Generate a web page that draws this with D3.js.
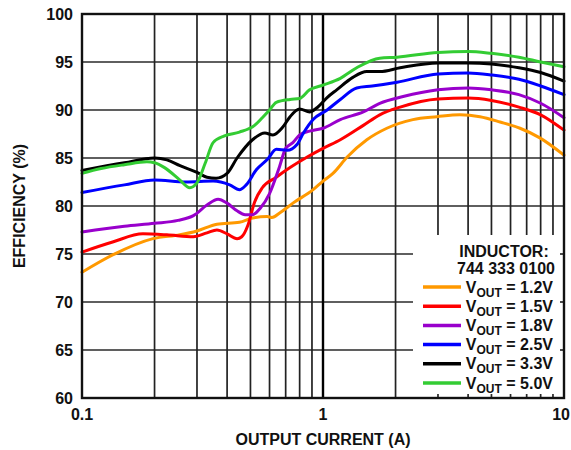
<!DOCTYPE html>
<html>
<head>
<meta charset="utf-8">
<script src="https://cdn.jsdelivr.net/npm/d3@7"></script>
<style>
  html, body { margin: 0; padding: 0; background: #fff; }
  svg { display: block; }
  text { font-family: "Liberation Sans", Arial, Helvetica, sans-serif; font-weight: bold; fill: #111; }
</style>
</head>
<body>
<svg id="chart" width="571" height="450"></svg>
<script>
// ---- data ----
const yTicks = [60, 65, 70, 75, 80, 85, 90, 95, 100];
const xTickLabels = [0.1, 1, 10];
const xGrid = [0.2,0.3,0.4,0.5,0.6,0.7,0.8,0.9,1,2,3,4,5,6,7,8,9];

const seriesNames = ["1.2V", "1.5V", "1.8V", "2.5V", "3.3V", "5.0V"];
const seriesColors = ["#FF9900", "#FF0000", "#9900CC", "#0000FF", "#000000", "#33CC33"];

const v12 = [[0.1,73.1],[0.134,74.9],[0.197,76.6],[0.255,77.0],[0.3,77.4],[0.363,78.1],[0.45,78.3],[0.51,78.75],[0.586,78.9],[0.614,78.8],[0.663,79.3],[0.75,80.3],[0.91,81.7],[1.0,82.6],[1.1,83.4],[1.26,85.1],[1.52,86.9],[1.84,88.1],[2.36,89.0],[2.97,89.3],[3.7,89.5],[4.48,89.3],[5.43,88.75],[6.57,88.1],[7.94,87.1],[10,85.3]];
const v15 = [[0.1,75.2],[0.134,76.25],[0.179,77.1],[0.225,77.0],[0.29,76.8],[0.33,77.2],[0.363,77.5],[0.40,77.1],[0.44,76.6],[0.46,76.8],[0.488,78.0],[0.52,80.4],[0.56,81.9],[0.64,83.0],[0.73,84.0],[0.86,85.1],[1.0,86.0],[1.18,86.9],[1.47,88.4],[1.72,89.5],[2.09,90.3],[3,91.15],[4,91.25],[5,91.0],[6.5,90.3],[8,89.5],[10,87.9]];
const v18 = [[0.1,77.3],[0.15,77.9],[0.2,78.2],[0.25,78.5],[0.29,79.0],[0.33,80.1],[0.367,80.7],[0.40,80.3],[0.44,79.5],[0.475,79.1],[0.51,79.1],[0.55,79.8],[0.6,81.3],[0.66,84.1],[0.70,86.0],[0.75,86.6],[0.8,87.4],[0.88,87.8],[1.0,88.1],[1.18,89.0],[1.47,89.8],[1.72,90.7],[2.15,91.4],[3,92.1],[4,92.3],[5,92.1],[6.5,91.6],[8,90.7],[10,89.2]];
const v25 = [[0.1,81.4],[0.15,82.2],[0.2,82.7],[0.27,82.5],[0.35,82.6],[0.41,82.2],[0.45,81.7],[0.48,82.2],[0.53,83.8],[0.59,84.9],[0.64,85.9],[0.71,85.8],[0.78,86.4],[0.83,87.6],[0.91,89.0],[1.04,90.0],[1.18,91.1],[1.38,92.3],[1.6,92.5],[2.03,92.9],[3,93.75],[4,93.85],[5,93.65],[6.5,93.2],[8,92.5],[10,91.6]];
const v33 = [[0.1,83.7],[0.15,84.5],[0.2,85.0],[0.225,84.8],[0.255,84.2],[0.3,83.5],[0.33,83.0],[0.36,82.9],[0.4,83.4],[0.44,85.0],[0.51,86.9],[0.574,87.6],[0.62,87.4],[0.68,88.2],[0.73,89.3],[0.8,90.1],[0.88,89.8],[0.94,90.2],[1.04,91.3],[1.14,92.1],[1.33,93.4],[1.52,94.0],[1.72,94.0],[2.09,94.4],[3,94.9],[4,94.9],[5,94.8],[6.5,94.4],[8,93.9],[10,93.0]];
const v50 = [[0.1,83.4],[0.12,83.9],[0.15,84.3],[0.186,84.6],[0.2,84.5],[0.22,84.0],[0.255,82.7],[0.28,81.9],[0.30,82.4],[0.325,84.5],[0.35,86.6],[0.39,87.3],[0.45,87.7],[0.52,88.4],[0.56,89.2],[0.6,90.0],[0.64,90.8],[0.73,91.1],[0.8,91.2],[0.88,92.1],[1.0,92.6],[1.18,93.3],[1.38,94.4],[1.72,95.4],[2.03,95.5],[3.0,96.0],[4.0,96.1],[5.0,95.9],[6.5,95.5],[8.0,95.0],[10,94.5]];
const seriesData = [v12, v15, v18, v25, v33, v50];

// ---- layout ----
const W = 571;
const L = 82, R = 564, T = 14, B = 398;
const svg = d3.select("#chart");
const x = d3.scaleLog().domain([0.1, 10]).range([L, R]);
const y = d3.scaleLinear().domain([60, 100]).range([B, T]);

// grid
const grid = svg.append("g");
grid.selectAll("line.h").data(yTicks.filter(v => v > 60 && v < 100)).enter().append("line")
  .attr("x1", L).attr("x2", R).attr("y1", d => y(d)).attr("y2", d => y(d))
  .attr("stroke", "#2a2a2a").attr("stroke-width", 1.7);
grid.selectAll("line.v").data(xGrid).enter().append("line")
  .attr("x1", d => x(d)).attr("x2", d => x(d)).attr("y1", T).attr("y2", B)
  .attr("stroke", d => d === 1 ? "#000" : "#222").attr("stroke-width", d => d === 1 ? 2.4 : 1.7);

// curves
const line = d3.line().x(d => x(d[0])).y(d => y(d[1])).curve(d3.curveMonotoneX);
svg.append("g").selectAll("path").data(seriesData).enter().append("path")
  .attr("d", line).attr("fill", "none")
  .attr("stroke", (d, i) => seriesColors[i]).attr("stroke-width", 3)
  .attr("stroke-linejoin", "round").attr("stroke-linecap", "round");

// legend box (covers grid)
const legX0 = 413, legY0 = 235;
svg.append("rect").attr("x", legX0).attr("y", legY0).attr("width", R - legX0).attr("height", B - legY0).attr("fill", "#fff");
svg.append("g").selectAll("line").data(xGrid.filter(d => x(d) > legX0)).enter().append("line")
  .attr("x1", d => x(d)).attr("x2", d => x(d)).attr("y1", B).attr("y2", B - 4)
  .attr("stroke", "#2a2a2a").attr("stroke-width", 1.7);
svg.append("g").selectAll("line").data(yTicks.filter(d => y(d) > legY0 && d > 60)).enter().append("line")
  .attr("x1", R).attr("x2", R - 4).attr("y1", d => y(d)).attr("y2", d => y(d))
  .attr("stroke", "#2a2a2a").attr("stroke-width", 1.7);

// frame
svg.append("rect").attr("x", L).attr("y", T).attr("width", R - L).attr("height", B - T)
  .attr("fill", "none").attr("stroke", "#111").attr("stroke-width", 2.4);

// axis labels
svg.append("g").selectAll("text").data(yTicks).enter().append("text")
  .attr("x", 73).attr("y", d => y(d)).attr("dy", "0.36em").attr("text-anchor", "end")
  .attr("font-size", 16).text(d => d);
svg.append("g").selectAll("text").data(xTickLabels).enter().append("text")
  .attr("x", d => x(d) > W - 12 ? W - 1 : x(d)).attr("y", 420)
  .attr("text-anchor", d => x(d) > W - 12 ? "end" : "middle")
  .attr("font-size", 16).text(d => d);

svg.append("text").attr("x", (L + R) / 2).attr("y", 445).attr("text-anchor", "middle")
  .attr("font-size", 16).text("OUTPUT CURRENT (A)");
svg.append("text").attr("transform", `translate(25,${(T + B) / 2}) rotate(-90)`)
  .attr("text-anchor", "middle").attr("font-size", 16).text("EFFICIENCY (%)");

// legend
const leg = svg.append("g");
leg.append("text").attr("x", 504).attr("y", 257).attr("text-anchor", "middle").attr("font-size", 16).text("INDUCTOR:");
leg.append("text").attr("x", 506).attr("y", 274).attr("text-anchor", "middle").attr("font-size", 16).text("744 333 0100");
seriesNames.forEach((name, i) => {
  const cy = 287 + i * 19.2;
  leg.append("line").attr("x1", 423).attr("x2", 461).attr("y1", cy).attr("y2", cy)
    .attr("stroke", seriesColors[i]).attr("stroke-width", 3.5);
  const t = leg.append("text").attr("x", 553).attr("y", cy + 5.5).attr("text-anchor", "end").attr("font-size", 16);
  t.append("tspan").text("V");
  t.append("tspan").attr("font-size", 12).attr("dy", 4).text("OUT");
  t.append("tspan").attr("dy", -4).text(" = " + name);
});
</script>
</body>
</html>
